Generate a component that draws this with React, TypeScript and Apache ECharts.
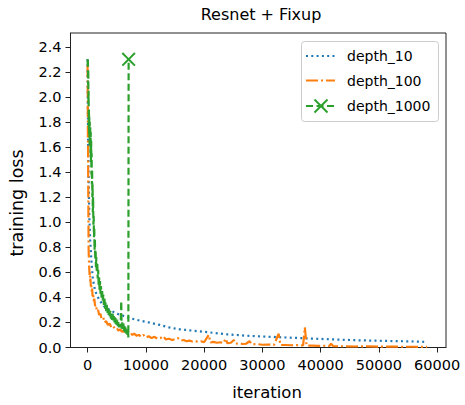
import React, { useEffect, useRef } from "react";
import * as echarts from "echarts";

const xTicks = [0, 10000, 20000, 30000, 40000, 50000, 60000];
const yTicks = [0, 0.2, 0.4, 0.6, 0.8, 1.0, 1.2, 1.4, 1.6, 1.8, 2.0, 2.2, 2.4];

const seriesNames = ["depth_10", "depth_100", "depth_1000"];

const d10Iter = [0, 100, 200, 300, 450, 650, 900, 1300, 2000, 2800, 3800, 5000, 6000, 7200, 8900, 10500, 12400, 14000, 15800, 18000, 21000, 24000, 27000, 30000, 34000, 38000, 42000, 46000, 50000, 54000, 58300];
const d10Loss = [2.3, 1.6, 1.3, 1.05, 0.85, 0.7, 0.55, 0.45, 0.38, 0.33, 0.3, 0.27, 0.255, 0.235, 0.215, 0.2, 0.18, 0.16, 0.145, 0.135, 0.12, 0.105, 0.095, 0.088, 0.08, 0.072, 0.065, 0.058, 0.054, 0.05, 0.045];

const d100Iter = [0, 30, 60, 90, 120, 150, 180, 220, 260, 300, 350, 400, 450, 500, 560, 620, 700, 780, 860, 950, 1050, 1150, 1300, 1450, 1600, 1800, 2000, 2200, 2400, 2700, 2900, 3200, 3500, 3800, 4100, 4400, 4700, 5000, 5300, 5600, 5900, 6200, 6500, 6800, 7100, 7400, 7700, 8000, 8400, 8800, 9200, 9600, 10000, 10500, 11000, 11500, 12000, 12500, 13000, 13400, 14000, 14500, 15000, 15500, 16000, 16500, 17000, 17500, 18000, 18500, 19000, 19500, 20000, 20800, 21100, 21600, 22200, 22800, 23300, 23700, 24000, 24600, 25100, 25400, 26000, 26600, 27200, 27800, 28200, 29000, 30000, 31000, 32000, 32800, 33100, 34000, 35000, 36000, 37000, 37300, 37600, 38500, 39500, 40500, 41500, 41800, 42200, 44000, 46000, 48000, 50000, 52000, 54000, 56000, 58300];
const d100Loss = [2.25, 2.0, 1.7, 1.55, 1.25, 1.0, 0.78, 0.72, 0.66, 0.62, 0.58, 0.6, 0.53, 0.55, 0.49, 0.51, 0.45, 0.47, 0.41, 0.43, 0.37, 0.39, 0.33, 0.34, 0.29, 0.3, 0.26, 0.27, 0.23, 0.24, 0.2, 0.21, 0.18, 0.19, 0.16, 0.17, 0.15, 0.155, 0.135, 0.145, 0.125, 0.135, 0.115, 0.125, 0.11, 0.115, 0.1, 0.11, 0.095, 0.1, 0.085, 0.1, 0.08, 0.09, 0.075, 0.085, 0.07, 0.075, 0.09, 0.065, 0.07, 0.06, 0.065, 0.075, 0.055, 0.06, 0.05, 0.055, 0.048, 0.052, 0.045, 0.05, 0.042, 0.1, 0.04, 0.045, 0.038, 0.042, 0.035, 0.07, 0.034, 0.038, 0.06, 0.03, 0.033, 0.028, 0.03, 0.05, 0.025, 0.028, 0.022, 0.024, 0.02, 0.11, 0.02, 0.02, 0.018, 0.02, 0.016, 0.16, 0.015, 0.015, 0.013, 0.014, 0.012, 0.03, 0.01, 0.01, 0.008, 0.009, 0.007, 0.007, 0.006, 0.006, 0.005];

const d1000Iter = [0, 30, 60, 90, 120, 150, 180, 210, 240, 270, 300, 340, 380, 420, 460, 500, 540, 580, 620, 660, 700, 740, 780, 820, 860, 900, 950, 1000, 1050, 1100, 1150, 1200, 1260, 1320, 1380, 1440, 1500, 1580, 1660, 1740, 1820, 1900, 1980, 2060, 2140, 2220, 2300, 2400, 2500, 2600, 2700, 2800, 2900, 3000, 3100, 3200, 3300, 3400, 3500, 3600, 3700, 3800, 3900, 4000, 4100, 4200, 4300, 4400, 4500, 4600, 4700, 4800, 4900, 5000, 5100, 5200, 5300, 5400, 5500, 5600, 5700, 5780, 5850, 5950, 6050, 6150, 6250, 6350, 6450, 6550, 6650, 6750, 6850, 6950, 7000, 7050];
const d1000Loss = [2.3, 2.25, 2.29, 2.1, 2.22, 1.95, 2.05, 1.75, 1.9, 1.7, 1.84, 1.62, 1.8, 1.6, 1.76, 1.55, 1.72, 1.48, 1.65, 1.38, 1.55, 1.3, 1.42, 1.2, 1.3, 1.08, 1.2, 0.98, 1.05, 0.88, 0.95, 0.78, 0.86, 0.7, 0.78, 0.64, 0.72, 0.6, 0.68, 0.55, 0.62, 0.5, 0.56, 0.46, 0.53, 0.43, 0.49, 0.4, 0.45, 0.37, 0.42, 0.34, 0.39, 0.31, 0.36, 0.29, 0.34, 0.27, 0.31, 0.26, 0.3, 0.25, 0.29, 0.23, 0.28, 0.22, 0.27, 0.21, 0.25, 0.2, 0.24, 0.19, 0.23, 0.18, 0.22, 0.17, 0.21, 0.16, 0.2, 0.16, 0.21, 0.37, 0.15, 0.2, 0.14, 0.19, 0.13, 0.17, 0.12, 0.16, 0.11, 0.15, 0.1, 0.14, 0.08, 2.3];

const BLUE = "#1f77b4";
const ORANGE = "#ff7f0e";
const GREEN = "#2ca02c";
const TEXT = "#000";
const FONT = "DejaVu Sans";
const X_PATH = "path://M0,1L1,0L5,4L9,0L10,1L6,5L10,9L9,10L5,6L1,10L0,9L4,5Z";

export default function App() {
  const ref = useRef<HTMLDivElement>(null);
  useEffect(() => {
    if (!ref.current) return;
    const chart = echarts.init(ref.current, null, { renderer: "svg" });
    const pairs = (xs: number[], ys: number[]) => xs.map((x, i) => [x, ys[i]]);
    const greenData: any[] = pairs(d1000Iter, d1000Loss);
    const last = greenData.length - 1;
    greenData[last] = {
      value: greenData[last],
      symbol: X_PATH,
      symbolSize: 14,
      itemStyle: { color: GREEN },
    };
    const legendY = [56, 80.5, 106];
    const option: any = {
      animation: false,
      backgroundColor: "#ffffff",
      grid: {
        left: 70.5,
        right: 19,
        top: 33,
        bottom: 57.5,
        show: true,
        borderColor: "#222",
        borderWidth: 1,
        backgroundColor: "transparent",
      },
      xAxis: {
        type: "value",
        min: -2930,
        max: 61530,
        axisLine: { show: true, onZero: false, lineStyle: { color: "#222", width: 1 } },
        axisTick: { show: true, length: 5, customValues: xTicks, lineStyle: { color: "#222" } },
        axisLabel: {
          customValues: xTicks,
          fontSize: 14.5,
          fontFamily: FONT,
          color: TEXT,
          margin: 10,
          formatter: (v: number) => String(v),
        },
        splitLine: { show: false },
      },
      yAxis: {
        type: "value",
        min: 0,
        max: 2.51,
        axisLine: { show: true, onZero: false, lineStyle: { color: "#222", width: 1 } },
        axisTick: { show: true, length: 5, customValues: yTicks, lineStyle: { color: "#222" } },
        axisLabel: {
          customValues: yTicks,
          fontSize: 14.5,
          fontFamily: FONT,
          color: TEXT,
          margin: 9,
          formatter: (v: number) => v.toFixed(1),
        },
        splitLine: { show: false },
      },
      series: [
        {
          name: seriesNames[0],
          type: "line",
          data: pairs(d10Iter, d10Loss),
          showSymbol: false,
          lineStyle: { color: BLUE, width: 2.2, type: [2, 3.3] },
          itemStyle: { color: BLUE },
          z: 2,
        },
        {
          name: seriesNames[1],
          type: "line",
          data: pairs(d100Iter, d100Loss),
          showSymbol: false,
          lineStyle: { color: ORANGE, width: 2.2, type: [12, 3, 2, 3] },
          itemStyle: { color: ORANGE },
          z: 3,
        },
        {
          name: seriesNames[2],
          type: "line",
          data: greenData,
          showSymbol: true,
          showAllSymbol: true,
          symbol: "none",
          lineStyle: { color: GREEN, width: 2.2, type: [7, 3.5] },
          itemStyle: { color: GREEN },
          z: 4,
        },
      ],
      graphic: [
        {
          type: "text",
          x: 261,
          y: 14,
          style: { text: "Resnet + Fixup", fontSize: 16, fontFamily: FONT, fill: TEXT, align: "center", verticalAlign: "middle" },
        },
        {
          type: "text",
          x: 267,
          y: 392,
          style: { text: "iteration", fontSize: 16.5, fontFamily: FONT, fill: TEXT, align: "center", verticalAlign: "middle" },
        },
        {
          type: "text",
          x: 17,
          y: 203,
          rotation: Math.PI / 2,
          style: { text: "training loss", fontSize: 17.5, fontFamily: FONT, fill: TEXT, align: "center", verticalAlign: "middle" },
        },
        {
          type: "rect",
          shape: { x: 301.5, y: 41.5, width: 137, height: 80, r: 3 },
          style: { fill: "#fff", stroke: "#cccccc", lineWidth: 1 },
          z: 10,
        },
        {
          type: "line",
          shape: { x1: 306, y1: legendY[0], x2: 335, y2: legendY[0] },
          style: { stroke: BLUE, lineWidth: 2.2, lineDash: [2, 3.3] },
          z: 11,
        },
        {
          type: "line",
          shape: { x1: 306, y1: legendY[1], x2: 335, y2: legendY[1] },
          style: { stroke: ORANGE, lineWidth: 2.2, lineDash: [12, 3, 2, 3] },
          z: 11,
        },
        {
          type: "line",
          shape: { x1: 306, y1: legendY[2], x2: 335, y2: legendY[2] },
          style: { stroke: GREEN, lineWidth: 2.2, lineDash: [7, 3.5] },
          z: 11,
        },
        {
          type: "line",
          shape: { x1: 314.5, y1: legendY[2] - 6.5, x2: 327.5, y2: legendY[2] + 6.5 },
          style: { stroke: GREEN, lineWidth: 2 },
          z: 11,
        },
        {
          type: "line",
          shape: { x1: 314.5, y1: legendY[2] + 6.5, x2: 327.5, y2: legendY[2] - 6.5 },
          style: { stroke: GREEN, lineWidth: 2 },
          z: 11,
        },
        ...seriesNames.map((n, i) => ({
          type: "text",
          x: 347,
          y: legendY[i],
          style: { text: n, fontSize: 14, fontFamily: FONT, fill: TEXT, align: "left", verticalAlign: "middle" },
          z: 11,
        })),
      ],
    };
    chart.setOption(option);
    return () => chart.dispose();
  }, []);
  return (
    <div
      ref={ref}
      style={{ position: "absolute", left: 0, top: 0, width: 465, height: 405 }}
    />
  );
}
